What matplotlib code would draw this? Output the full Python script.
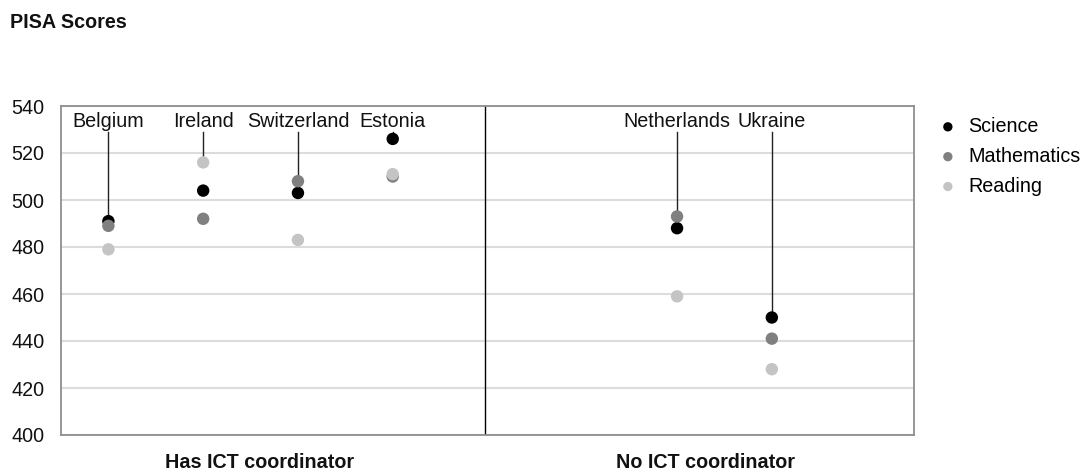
import matplotlib
matplotlib.use("Agg")
import matplotlib.pyplot as plt

# Data
COUNTRIES = ["Belgium", "Ireland", "Switzerland", "Estonia", "Netherlands", "Ukraine"]
SCIENCE = [491, 504, 503, 526, 488, 450]
MATHEMATICS = [489, 492, 508, 510, 493, 441]
READING = [479, 516, 483, 511, 459, 428]
GROUPS = ["Has ICT coordinator", "No ICT coordinator"]
Y_TICKS = [400, 420, 440, 460, 480, 500, 520, 540]

# Layout (slot positions along the x axis)
X_SLOTS = [0, 1, 2, 3, 6, 7]
GROUP_LABEL_X = [1.6, 6.3]
DIVIDER_X = 3.97

SERIES = [
    ("Science", SCIENCE, "#000000"),
    ("Mathematics", MATHEMATICS, "#808080"),
    ("Reading", READING, "#c4c4c4"),
]

plt.rcParams["font.family"] = ["Liberation Sans", "DejaVu Sans"]
FS = 14.2

fig = plt.figure(figsize=(10.83, 4.70), dpi=100)
ax = fig.add_axes([61 / 1083, 35 / 470, (914 - 61) / 1083, (435 - 106) / 470])

ax.set_xlim(-0.5, 8.5)
ax.set_ylim(400, 540)
ax.set_yticks(Y_TICKS)
ax.set_xticks([])
ax.tick_params(axis="y", length=0, pad=12, labelsize=FS, labelcolor="#111111")
ax.grid(axis="y", color="#dcdcdc", linewidth=1.5)
ax.set_axisbelow(True)
for spine in ax.spines.values():
    spine.set_color("#8f8f8f")
    spine.set_linewidth(1.3)

ax.axvline(DIVIDER_X, color="black", linewidth=1.0)

# leader lines from each label down to the top score
label_base = 531
for x, name, s, m, r in zip(X_SLOTS, COUNTRIES, SCIENCE, MATHEMATICS, READING):
    top = max(s, m, r)
    ax.plot([x, x], [529, top], color="#222222", linewidth=1.0, zorder=2)
    ax.text(x, label_base, name, ha="center", va="baseline", fontsize=FS, color="#111111")

handles = []
for name, values, color in SERIES:
    h = ax.scatter(X_SLOTS, values, s=80, color=color, edgecolors="none", zorder=3, label=name)
    handles.append(h)

for gx, g in zip(GROUP_LABEL_X, GROUPS):
    ax.text(gx, -0.083, g, transform=ax.get_xaxis_transform(), ha="center", va="center",
            fontsize=FS, fontweight="bold", color="#111111")

fig.text(10 / 1083, 1 - 23 / 470, "PISA Scores", ha="left", va="center",
         fontsize=FS, fontweight="bold", color="#111111")

fig.legend(handles=handles, loc="upper left", bbox_to_anchor=(938 / 1083, 1 - 117 / 470),
           frameon=False, fontsize=FS, markerscale=0.75, handletextpad=0.55,
           labelspacing=0.55, borderaxespad=0, borderpad=0, handlelength=1.0)

fig.savefig("out.png", dpi=100)
